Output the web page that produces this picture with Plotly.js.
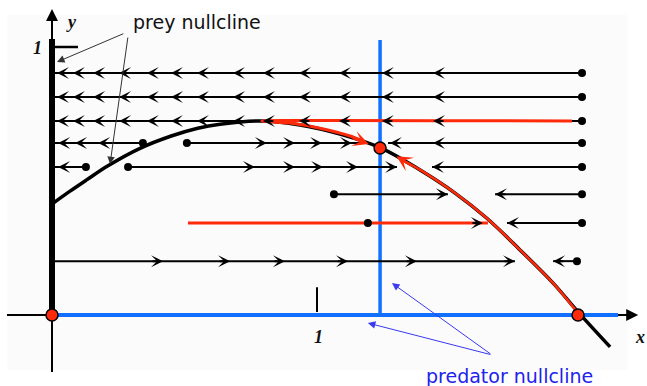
<!DOCTYPE html>
<html>
<head>
<meta charset="utf-8">
<script src="https://cdn.plot.ly/plotly-3.0.1.min.js"></script>
<style>html,body{margin:0;padding:0;background:#fff;}#chart{width:647px;height:386px;}</style>
</head>
<body>
<div id="chart"></div>
<script>
// ---- Data (in model units: x = prey, y = predator) ----
const preyNullX = [0, 0.068, 0.132, 0.208, 0.332, 0.450, 0.550, 0.634, 0.785, 0.936, 1.087, 1.242, 1.389, 1.521, 1.642, 1.766, 1.891, 1.989, 2.106];
const preyNullY = [0.414, 0.462, 0.505, 0.555, 0.622, 0.668, 0.697, 0.712, 0.724, 0.709, 0.675, 0.623, 0.541, 0.455, 0.360, 0.243, 0.119, 0.007, -0.119];

const predNullX = 1.238;           // vertical predator nullcline
const equilibriaX = [0, 1.238, 1.985];
const equilibriaY = [0, 0.623, 0];

// horizontal flow segments
const flowY    = [0.903, 0.813, 0.724, 0.642, 0.642, 0.642, 0.552, 0.552, 0.552, 0.451, 0.451, 0.343, 0.343, 0.201, 0.201];
const flowFrom = [2.000, 2.000, 2.000, 0.343, 0.509, 2.000, 0.128, 0.287, 2.000, 1.064, 2.000, 1.192, 2.000, 0.000, 1.981];
const flowTo   = [0.000, 0.000, 0.000, 0.000, 1.190, 1.268, 0.000, 1.302, 1.434, 1.494, 1.672, 1.626, 1.717, 1.747, 1.891];
const topRowArrows = [0.019, 0.079, 0.155, 0.253, 0.358, 0.449, 0.547, 0.683, 0.796, 0.932, 1.083, 1.245, 1.438];
const flowArrows = [
  topRowArrows, topRowArrows, topRowArrows,
  [0.023, 0.087, 0.174], [0.811, 0.917, 1.019, 1.132], [1.275, 1.438],
  [0.023], [0.766, 0.917, 1.023, 1.155, 1.302], [1.434],
  [1.494], [1.672],
  [1.626], [1.717],
  [0.419, 0.672, 0.879, 1.117, 1.377, 1.747], [1.891]
];

// red trajectories
const redTopX = [1.962, 0.792, 0.898, 1.011, 1.125, 1.165];
const redTopY = [0.724, 0.724, 0.716, 0.697, 0.668, 0.652];
const redLowX = [1.985, 1.891, 1.766, 1.642, 1.521, 1.400, 1.330];
const redLowY = [0.007, 0.119, 0.243, 0.360, 0.455, 0.535, 0.573];
const redMidX = [0.513, 1.645];
const redMidY = [0.343, 0.343];

// ---- Build ----
const BLACK = '#000', BLUE = '#1170ff', RED = '#ff2a0a';
const traces = [];
const line = (x, y, color, width, extra) => ({x, y, type: 'scatter', mode: 'lines', hoverinfo: 'skip', showlegend: false, line: Object.assign({color, width}, extra || {})});

// axes (thin)
traces.push(line([-0.170, 2.20], [0, 0], BLACK, 2));
traces.push(line([0, 0], [-0.213, 1.10], BLACK, 2));
// ticks
traces.push(line([0, 0.098], [1, 1], BLACK, 2.5));
traces.push(line([1, 1], [0.011, 0.104], BLACK, 2));
// prey nullcline x = 0 (thick)
traces.push(line([0, 0], [0, 1.03], BLACK, 6));
// predator nullclines
traces.push(line([0, 2.136], [0, 0], BLUE, 4));
traces.push(line([predNullX, predNullX], [0, 1.026], BLUE, 3.5));
// curved prey nullcline
traces.push(line(preyNullX, preyNullY, BLACK, 3.5, {shape: 'spline', smoothing: 1}));
// flow lines
const dotX = [], dotY = [];
const annotations = [];
for (let i = 0; i < flowY.length; i++) {
  traces.push(line([flowFrom[i], flowTo[i]], [flowY[i], flowY[i]], BLACK, 2));
  if (flowFrom[i] !== 0) { dotX.push(flowFrom[i]); dotY.push(flowY[i]); }
  const dir = Math.sign(flowTo[i] - flowFrom[i]);
  flowArrows[i].forEach(ax => {
    annotations.push({x: ax, y: flowY[i], ax: ax - dir * 0.045, ay: flowY[i], xref: 'x', yref: 'y', axref: 'x', ayref: 'y',
      text: '', showarrow: true, arrowhead: 3, arrowsize: 1.0, arrowwidth: 2, arrowcolor: BLACK});
  });
}
// red trajectories
traces.push(line(redTopX, redTopY, RED, 3, {shape: 'spline', smoothing: 0.6}));
traces.push(line(redLowX, redLowY, RED, 2.5, {shape: 'spline', smoothing: 1}));
traces.push(line(redMidX, redMidY, RED, 3));
// dots
traces.push({x: dotX, y: dotY, type: 'scatter', mode: 'markers', hoverinfo: 'skip', showlegend: false,
  marker: {color: BLACK, size: 8}});
traces.push({x: equilibriaX, y: equilibriaY, type: 'scatter', mode: 'markers', hoverinfo: 'skip', showlegend: false,
  marker: {color: RED, size: 12, line: {color: BLACK, width: 1.5}}});

// red arrowheads
annotations.push({x: 1.195, y: 0.638, ax: 1.13, ay: 0.662, xref: 'x', yref: 'y', axref: 'x', ayref: 'y', text: '', showarrow: true,
  arrowhead: 3, arrowsize: 1.05, arrowwidth: 2.5, arrowcolor: RED});
annotations.push({x: 1.300, y: 0.592, ax: 1.36, ay: 0.556, xref: 'x', yref: 'y', axref: 'x', ayref: 'y', text: '', showarrow: true,
  arrowhead: 3, arrowsize: 1.05, arrowwidth: 2.5, arrowcolor: RED});
// axis arrowheads
annotations.push({x: 2.212, y: 0, ax: 2.15, ay: 0, xref: 'x', yref: 'y', axref: 'x', ayref: 'y', text: '', showarrow: true,
  arrowhead: 2, arrowsize: 1.2, arrowwidth: 2, arrowcolor: BLACK});
annotations.push({x: 0, y: 1.142, ax: 0, ay: 1.07, xref: 'x', yref: 'y', axref: 'x', ayref: 'y', text: '', showarrow: true,
  arrowhead: 2, arrowsize: 1.2, arrowwidth: 2, arrowcolor: BLACK});
// label pointer arrows
annotations.push({x: 0.019, y: 0.944, ax: 0.275, ay: 1.052, xref: 'x', yref: 'y', axref: 'x', ayref: 'y', text: '', showarrow: true,
  arrowhead: 2, arrowsize: 1.5, arrowwidth: 1, arrowcolor: '#333'});
annotations.push({x: 0.219, y: 0.563, ax: 0.287, ay: 1.041, xref: 'x', yref: 'y', axref: 'x', ayref: 'y', text: '', showarrow: true,
  arrowhead: 2, arrowsize: 1.5, arrowwidth: 1, arrowcolor: '#333'});
annotations.push({x: 1.283, y: 0.119, ax: 1.660, ay: -0.149, xref: 'x', yref: 'y', axref: 'x', ayref: 'y', text: '', showarrow: true,
  arrowhead: 2, arrowsize: 1.5, arrowwidth: 1, arrowcolor: '#3a3af0'});
annotations.push({x: 1.192, y: -0.030, ax: 1.660, ay: -0.149, xref: 'x', yref: 'y', axref: 'x', ayref: 'y', text: '', showarrow: true,
  arrowhead: 2, arrowsize: 1.5, arrowwidth: 1, arrowcolor: '#3a3af0'});
// texts
annotations.push({x: 0.547, y: 1.093, xref: 'x', yref: 'y', text: 'prey nullcline', showarrow: false,
  font: {family: 'DejaVu Sans', size: 19, color: '#111'}});
annotations.push({x: 1.728, y: -0.226, xref: 'x', yref: 'y', text: 'predator nullcline', showarrow: false,
  font: {family: 'DejaVu Sans', size: 19, color: '#2222ee'}});
const serif = {family: 'Liberation Serif', size: 18, color: '#111'};
annotations.push({x: 0.075, y: 1.093, xref: 'x', yref: 'y', text: '<b><i>y</i></b>', showarrow: false, font: serif});
annotations.push({x: -0.055, y: 0.996, xref: 'x', yref: 'y', text: '<b><i>1</i></b>', showarrow: false, font: serif});
annotations.push({x: 1.004, y: -0.082, xref: 'x', yref: 'y', text: '<b><i>1</i></b>', showarrow: false, font: serif});
annotations.push({x: 2.220, y: -0.082, xref: 'x', yref: 'y', text: '<b><i>x</i></b>', showarrow: false, font: serif});

const layout = {
  width: 647, height: 386,
  margin: {l: 0, r: 0, t: 0, b: 0},
  paper_bgcolor: '#fff', plot_bgcolor: '#fff',
  xaxis: {range: [-52 / 265, 595 / 265], visible: false, fixedrange: true},
  yaxis: {range: [-71 / 268, 315 / 268], visible: false, fixedrange: true},
  shapes: [{type: 'rect', xref: 'x', yref: 'y', x0: -0.17, x1: 2.17, y0: -0.205, y1: 1.12, fillcolor: '#fbfbfb', line: {width: 0}, layer: 'below'}],
  annotations: annotations,
  showlegend: false
};
Plotly.newPlot('chart', traces, layout, {staticPlot: true, displayModeBar: false});
</script>
</body>
</html>
